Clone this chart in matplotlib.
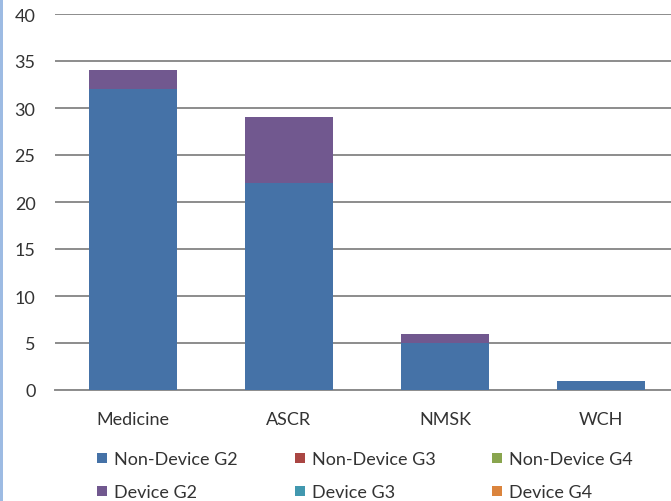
import matplotlib
matplotlib.use("Agg")
import matplotlib.pyplot as plt
from matplotlib.patches import Rectangle
import numpy as np

plt.rcParams['font.family'] = ['Lato', 'DejaVu Sans']

categories = ["Medicine", "ASCR", "NMSK", "WCH"]
series_names = ["Non-Device G2", "Non-Device G3", "Non-Device G4",
                "Device G2", "Device G3", "Device G4"]
non_device_g2 = [32, 22, 5, 1]
non_device_g3 = [0, 0, 0, 0]
non_device_g4 = [0, 0, 0, 0]
device_g2 = [2, 7, 1, 0]
device_g3 = [0, 0, 0, 0]
device_g4 = [0, 0, 0, 0]
y_ticks = [0, 5, 10, 15, 20, 25, 30, 35, 40]

series = [non_device_g2, non_device_g3, non_device_g4, device_g2, device_g3, device_g4]
colors = ["#4572A7", "#AA4643", "#89A54E", "#71588F", "#4198AF", "#DB843D"]

W, H = 671, 502
FS = 13
TXT = "#333333"
fig = plt.figure(figsize=(W / 100, H / 100), dpi=100)
ax = fig.add_axes([55 / W, (H - 391) / H, 624 / W, 376 / H])

x = np.arange(len(categories))
bottom = np.zeros(len(categories))
for vals, col, name in zip(series, colors, series_names):
    v = np.array(vals, dtype=float)
    ax.bar(x, v, 0.57, bottom=bottom, color=col, label=name, zorder=3)
    bottom += v

ax.set_xlim(-0.5, len(categories) - 0.5)
ax.set_ylim(0, 40)
ax.set_yticks(y_ticks)
ax.set_yticklabels([str(t) for t in y_ticks], fontsize=FS, color=TXT)
ax.set_xticks(x)
ax.set_xticklabels(categories, fontsize=FS, color=TXT)
ax.tick_params(axis="both", length=0)
ax.tick_params(axis="y", pad=14)
ax.tick_params(axis="x", pad=15)
ax.grid(axis="y", color="#8C8C8C", linewidth=1.4, zorder=0)
for s in ["top", "right", "left"]:
    ax.spines[s].set_visible(False)
ax.spines["bottom"].set_color("#8C8C8C")
ax.spines["bottom"].set_linewidth(1.4)

# legend: three columns, two rows, filled row by row
col_marker_x = [97, 295, 492]
row_center_y = [458.5, 492]
for i, (name, col) in enumerate(zip(series_names, colors)):
    r, c = divmod(i, 3)
    mx, cy = col_marker_x[c], row_center_y[r]
    fig.add_artist(Rectangle((mx / W, 1 - (cy + 5) / H), 10 / W, 10 / H,
                             transform=fig.transFigure, facecolor=col,
                             edgecolor="none"))
    fig.text((mx + 17) / W, 1 - cy / H, name, fontsize=FS, color=TXT,
             va="center_baseline", ha="left")

# light blue edge on the left
fig.add_artist(Rectangle((0, 0), 3 / W, 1, transform=fig.transFigure,
                         facecolor="#9DBBE3", edgecolor="none"))

fig.savefig("out.png", dpi=100)
